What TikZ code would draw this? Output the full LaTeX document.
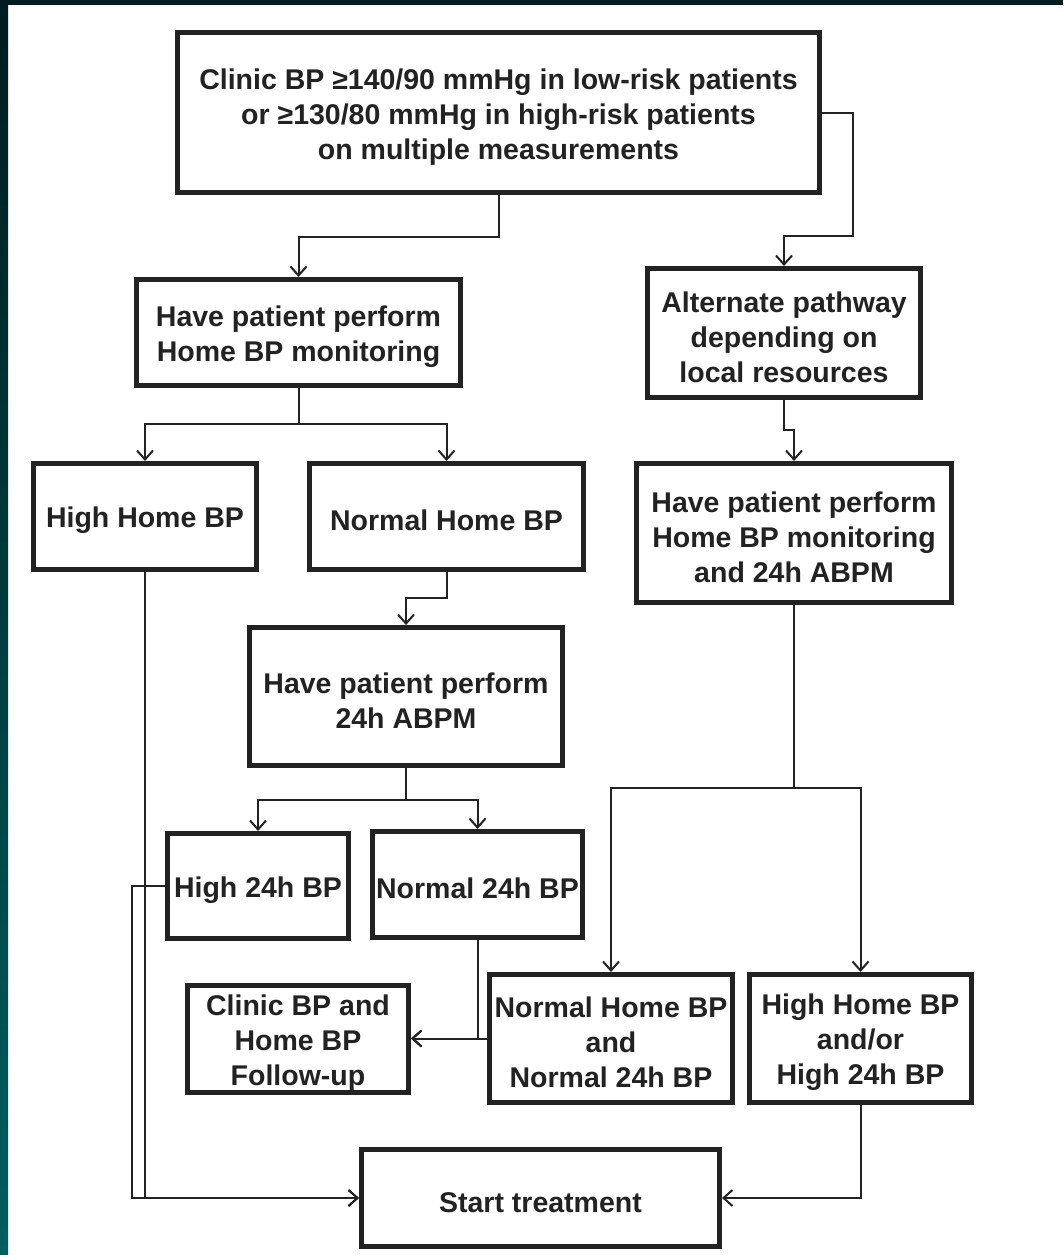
\documentclass[tikz,border=0pt]{standalone}
\usepackage{fontspec}
\setmainfont{Liberation Sans}
\usetikzlibrary{arrows.meta}

\definecolor{inkgray}{HTML}{222222}
\definecolor{frametop}{HTML}{001C1E}
\definecolor{framebot}{HTML}{005E5E}

% taller first line, so the text sits a little low in its box
\newcommand{\lift}{\rule{0pt}{29pt}}

\tikzset{
  box/.style={draw=inkgray, line width=5pt, fill=white, text=inkgray, align=center,
    inner sep=0pt, font=\fontsize{28.5}{35}\selectfont\bfseries},
  link/.style={draw=inkgray, line width=2pt},
  arr/.style={link, -{Straight Barb[length=9pt,width=16pt,line width=2pt]}}
}

\begin{document}
\begin{tikzpicture}[x=1pt,y=-1pt]
    \useasboundingbox (0,0) rectangle (1063,1255);
    \fill[white] (0,0) rectangle (1063,1255);
    % dark frame at top and left
    \fill[frametop] (0,0) rectangle (1063,5);
    \shade[top color=frametop, bottom color=framebot] (0,0) rectangle (8,1255);

    % boxes
    \node [box, minimum width=642pt, minimum height=160pt] (clinic) at (498.5,112.5)
        {\lift Clinic BP ≥140/90 mmHg in low-risk patients\\or ≥130/80 mmHg in high-risk patients\\on multiple measurements};
    \node [box, minimum width=324pt, minimum height=106pt] (homebp) at (298.5,332.5)
        {\lift Have patient perform\\Home BP monitoring};
    \node [box, minimum width=273pt, minimum height=129pt] (altpath) at (784,333)
        {\lift Alternate pathway\\depending on\\local resources};
    \node [box, minimum width=223pt, minimum height=106pt] (highhome) at (145,516.5) {\lift High Home BP};
    \node [box, minimum width=274pt, minimum height=106pt] (normhome) at (446.5,516.5) {\lift Normal Home BP};
    \node [box, minimum width=315pt, minimum height=139pt] (bothtest) at (794,533)
        {\lift Have patient perform\\Home BP monitoring\\and 24h ABPM};
    \node [box, minimum width=313pt, minimum height=138pt] (abpm) at (406,696.5)
        {\lift Have patient perform\\24h ABPM};
    \node [box, minimum width=181pt, minimum height=105pt] (highday) at (258,886) {\lift High 24h BP};
    \node [box, minimum width=210pt, minimum height=106pt] (normday) at (477.5,884.5) {\lift Normal 24h BP};
    \node [box, minimum width=221pt, minimum height=107pt] (followup) at (298,1038.5)
        {\lift Clinic BP and\\Home BP\\Follow-up};
    \node [box, minimum width=243pt, minimum height=128pt] (normboth) at (611,1038.5)
        {\lift Normal Home BP\\and\\Normal 24h BP};
    \node [box, minimum width=222pt, minimum height=128pt] (highboth) at (860.5,1038.5)
        {\lift High Home BP\\and/or\\High 24h BP};
    \node [box, minimum width=358pt, minimum height=97pt] (start) at (540.5,1198) {\lift Start treatment};

    % connectors
    \draw [arr] (clinic.south) -- ++(0,42) -| (homebp.north);
    \draw [arr] (clinic.east) -- ++(31,0) -- ++(0,123.5) -| (altpath.north);

    \draw [link] (homebp.south) -- ++(0,36) coordinate (hsplit);
    \draw [arr] (hsplit) -| (highhome.north);
    \draw [arr] (hsplit) -| (normhome.north);

    \draw [arr] (altpath.south) -- ++(0,30) -| (bothtest.north);
    \draw [arr] (normhome.south) -- ++(0,26) -| (abpm.north);

    \draw [link] (abpm.south) -- ++(0,32) coordinate (asplit);
    \draw [arr] (asplit) -| (highday.north);
    \draw [arr] (asplit) -| (normday.north);

    \draw [link] (bothtest.south) -- ++(0,183) coordinate (bsplit);
    \draw [arr] (bsplit) -| (normboth.north);
    \draw [arr] (bsplit) -| (highboth.north);

    \draw [arr] (highhome.south) |- (start.west);
    \draw [arr] (highday.west) -- ++(-33,0) |- (start.west);
    \draw [arr] (normday.south) |- (followup.east);
    \draw [arr] (normboth.west) -- (followup.east);
    \draw [arr] (highboth.south) |- (start.east);
\end{tikzpicture}
\end{document}
